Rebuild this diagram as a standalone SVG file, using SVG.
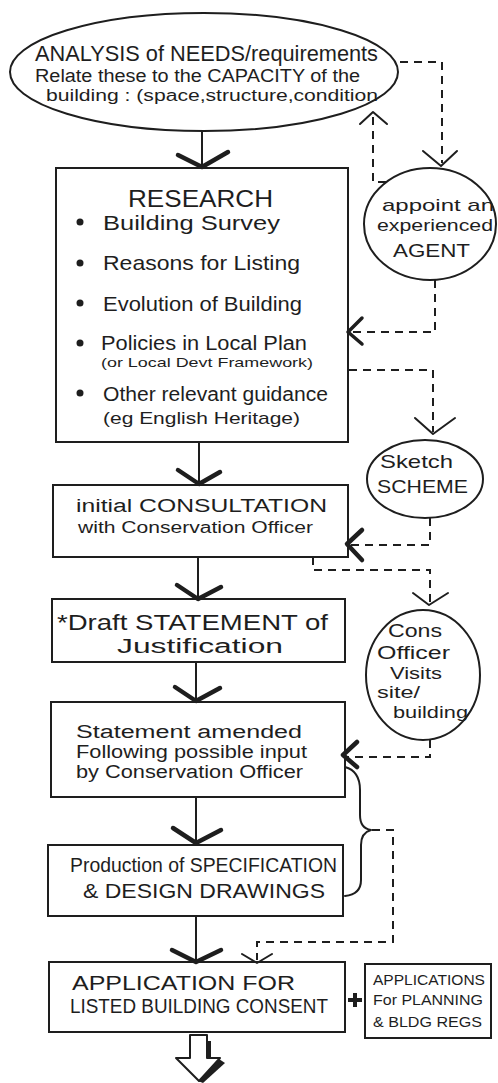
<svg xmlns="http://www.w3.org/2000/svg" width="498" height="1083" viewBox="0 0 498 1083">
<style>
.box{fill:none;stroke:#1e1e1e;stroke-width:2}
.dash{fill:none;stroke:#1e1e1e;stroke-width:2;stroke-dasharray:8 6}
.chev{fill:none;stroke:#1e1e1e;stroke-width:4.5;stroke-linecap:round;stroke-linejoin:round}
.thin{fill:none;stroke:#1e1e1e;stroke-width:2;stroke-linecap:round;stroke-linejoin:round}
.mid{fill:none;stroke:#1e1e1e;stroke-width:3.5;stroke-linecap:round;stroke-linejoin:round}
.stem{stroke:#1e1e1e;stroke-width:2}
text{font-family:"Liberation Sans",Arial,sans-serif;fill:#1e1e1e}
</style>
<rect width="498" height="1083" fill="#ffffff"/>

<g id="connectors">
  <!-- main flow stems and chevrons -->
  <line class="stem" x1="202" y1="132" x2="202" y2="166"/>
  <path class="chev" d="M178,155 L202,167 L228,152"/>
  <line class="stem" x1="199" y1="442" x2="199" y2="483"/>
  <path class="chev" d="M178,470 L199,484 L220,472"/>
  <line class="stem" x1="198" y1="557" x2="198" y2="598"/>
  <path class="chev" d="M177,585 L198,599 L221,587"/>
  <line class="stem" x1="196" y1="662" x2="196" y2="700"/>
  <path class="chev" d="M175,687 L196,701 L220,688"/>
  <line class="stem" x1="196" y1="797" x2="196" y2="842"/>
  <path class="chev" d="M173,828 L196,843 L221,830"/>
  <line class="stem" x1="196" y1="917" x2="196" y2="961"/>
  <path class="chev" d="M172,950 L196,962 L221,950"/>

  <!-- ellipse to agent -->
  <path class="dash" d="M400,62 L442,62 L442,163"/>
  <path class="thin" d="M423,151 L441,166 L457,151"/>
  <!-- agent back to ellipse -->
  <path class="dash" d="M386,182 L373,182 L373,116"/>
  <path class="thin" d="M360,124 L373,112 L387,124"/>
  <!-- agent to research -->
  <path class="dash" d="M435,280 L435,332 L350,332"/>
  <path class="mid" d="M362,318 L348,332 L362,344"/>
  <!-- research to sketch -->
  <path class="dash" d="M349,370 L433,370 L433,432"/>
  <path class="thin" d="M415,418 L433,434 L455,418"/>
  <!-- sketch to consultation -->
  <path class="dash" d="M430,518 L430,545 L350,545"/>
  <path class="chev" d="M362,530 L347,544 L362,560"/>
  <!-- consultation to cons officer -->
  <path class="dash" d="M313,557 L313,570 L430,570 L430,603"/>
  <path class="thin" d="M413,593 L429,605 L448,593"/>
  <!-- cons officer to statement -->
  <path class="dash" d="M430,740 L430,757 L347,757"/>
  <path class="chev" d="M357,742 L343,755 L357,767"/>
  <!-- brace and dashed to application -->
  <path class="thin" d="M345,767 C356,770 360,778 360,790 L360,815 C360,824 364,829 371,830 C364,832 361,838 361,845 L361,880 C361,890 355,895 345,896"/>
  <path class="dash" d="M372,830 L393,830 L393,942 L257,942 L257,960"/>
  <path class="thin" d="M242,954 L257,963 L272,954"/>
  <!-- plus -->
  <path d="M348,1000 L362,1000 M355,993 L355,1007" stroke="#1e1e1e" stroke-width="4" fill="none"/>
  <!-- outcome arrow -->
  <path d="M204,1041 L211,1041 L211,1058 L204,1058 Z" fill="#1e1e1e"/>
  <path d="M219,1059 L225,1063 L203,1083 L198,1081 Z" fill="#1e1e1e"/>
  <path d="M190,1035 L207,1035 L207,1058 L220,1058 L199,1081 L176,1058 L190,1058 Z" fill="#ffffff" stroke="#1e1e1e" stroke-width="2" stroke-linejoin="round"/>
</g>

<g id="node-analysis">
  <ellipse class="box" cx="204" cy="72" rx="194" ry="59"/>
  <text x="35" y="61" font-size="22" textLength="343" lengthAdjust="spacingAndGlyphs">ANALYSIS of NEEDS/requirements</text>
  <text x="35" y="82" font-size="18" textLength="325" lengthAdjust="spacingAndGlyphs">Relate these to the CAPACITY of the</text>
  <text x="46" y="101" font-size="16" textLength="332" lengthAdjust="spacingAndGlyphs">building : (space,structure,condition</text>
</g>

<g id="node-agent">
  <ellipse class="box" cx="430" cy="224" rx="66" ry="56"/>
  <text x="382" y="211" font-size="17" textLength="112" lengthAdjust="spacingAndGlyphs">appoint an</text>
  <text x="377" y="231" font-size="17" textLength="116" lengthAdjust="spacingAndGlyphs">experienced</text>
  <text x="393" y="257" font-size="19" textLength="77" lengthAdjust="spacingAndGlyphs">AGENT</text>
</g>

<g id="node-research">
  <rect class="box" x="56" y="168" width="292" height="274"/>
  <text x="128" y="207" font-size="24" textLength="145" lengthAdjust="spacingAndGlyphs">RESEARCH</text>
  <circle cx="80" cy="222" r="3.5" fill="#1e1e1e"/>
  <text x="103" y="230" font-size="21" textLength="177" lengthAdjust="spacingAndGlyphs">Building Survey</text>
  <circle cx="80" cy="263" r="3.5" fill="#1e1e1e"/>
  <text x="103" y="270" font-size="21" textLength="197" lengthAdjust="spacingAndGlyphs">Reasons for Listing</text>
  <circle cx="80" cy="303" r="3.5" fill="#1e1e1e"/>
  <text x="103" y="311" font-size="21" textLength="199" lengthAdjust="spacingAndGlyphs">Evolution of Building</text>
  <circle cx="80" cy="343" r="3.5" fill="#1e1e1e"/>
  <text x="101" y="350" font-size="20" textLength="206" lengthAdjust="spacingAndGlyphs">Policies in Local Plan</text>
  <text x="101" y="367" font-size="13" textLength="212" lengthAdjust="spacingAndGlyphs">(or Local Devt Framework)</text>
  <circle cx="80" cy="393" r="3.5" fill="#1e1e1e"/>
  <text x="103" y="401" font-size="20" textLength="225" lengthAdjust="spacingAndGlyphs">Other relevant guidance</text>
  <text x="103" y="424" font-size="17" textLength="197" lengthAdjust="spacingAndGlyphs">(eg English Heritage)</text>
</g>

<g id="node-sketch">
  <ellipse class="box" cx="425" cy="479" rx="58" ry="39"/>
  <text x="380" y="468" font-size="19" textLength="73" lengthAdjust="spacingAndGlyphs">Sketch</text>
  <text x="377" y="493" font-size="19" textLength="91" lengthAdjust="spacingAndGlyphs">SCHEME</text>
</g>

<g id="node-consultation">
  <rect class="box" x="53" y="485" width="295" height="72"/>
  <text x="76" y="512" font-size="18" textLength="251" lengthAdjust="spacingAndGlyphs">initial  CONSULTATION</text>
  <text x="78" y="533" font-size="16" textLength="235" lengthAdjust="spacingAndGlyphs">with Conservation Officer</text>
</g>

<g id="node-cons-officer">
  <ellipse class="box" cx="423" cy="675" rx="57" ry="65"/>
  <text x="388" y="637" font-size="18" textLength="54" lengthAdjust="spacingAndGlyphs">Cons</text>
  <text x="377" y="659" font-size="18" textLength="73" lengthAdjust="spacingAndGlyphs">Officer</text>
  <text x="390" y="679" font-size="16" textLength="52" lengthAdjust="spacingAndGlyphs">Visits</text>
  <text x="377" y="698" font-size="16" textLength="43" lengthAdjust="spacingAndGlyphs">site/</text>
  <text x="393" y="718" font-size="17" textLength="75" lengthAdjust="spacingAndGlyphs">building</text>
</g>

<g id="node-draft">
  <rect class="box" x="52" y="599" width="293" height="63"/>
  <text x="57" y="630" font-size="22" textLength="271" lengthAdjust="spacingAndGlyphs">*Draft STATEMENT of</text>
  <text x="117" y="653" font-size="20" textLength="166" lengthAdjust="spacingAndGlyphs">Justification</text>
</g>

<g id="node-statement">
  <rect class="box" x="51" y="702" width="294" height="95"/>
  <text x="76" y="738" font-size="18" textLength="226" lengthAdjust="spacingAndGlyphs">Statement amended</text>
  <text x="76" y="758" font-size="18" textLength="231" lengthAdjust="spacingAndGlyphs">Following possible input</text>
  <text x="76" y="778" font-size="18" textLength="227" lengthAdjust="spacingAndGlyphs">by Conservation Officer</text>
</g>

<g id="node-production">
  <rect class="box" x="48" y="845" width="295" height="71"/>
  <text x="70" y="872" font-size="20" textLength="267" lengthAdjust="spacingAndGlyphs">Production of SPECIFICATION</text>
  <text x="83" y="898" font-size="20" textLength="242" lengthAdjust="spacingAndGlyphs">&amp; DESIGN DRAWINGS</text>
</g>

<g id="node-application">
  <rect class="box" x="49" y="962" width="296" height="70"/>
  <text x="72" y="990" font-size="21" textLength="223" lengthAdjust="spacingAndGlyphs">APPLICATION  FOR</text>
  <text x="70" y="1013" font-size="20" textLength="258" lengthAdjust="spacingAndGlyphs">LISTED BUILDING CONSENT</text>
</g>

<g id="node-other-applications">
  <rect class="box" x="365" y="964" width="126" height="74"/>
  <text x="373" y="985" font-size="14" textLength="112" lengthAdjust="spacingAndGlyphs">APPLICATIONS</text>
  <text x="373" y="1005" font-size="14" textLength="110" lengthAdjust="spacingAndGlyphs">For PLANNING</text>
  <text x="373" y="1027" font-size="14" textLength="109" lengthAdjust="spacingAndGlyphs">&amp; BLDG REGS</text>
</g>
</svg>
